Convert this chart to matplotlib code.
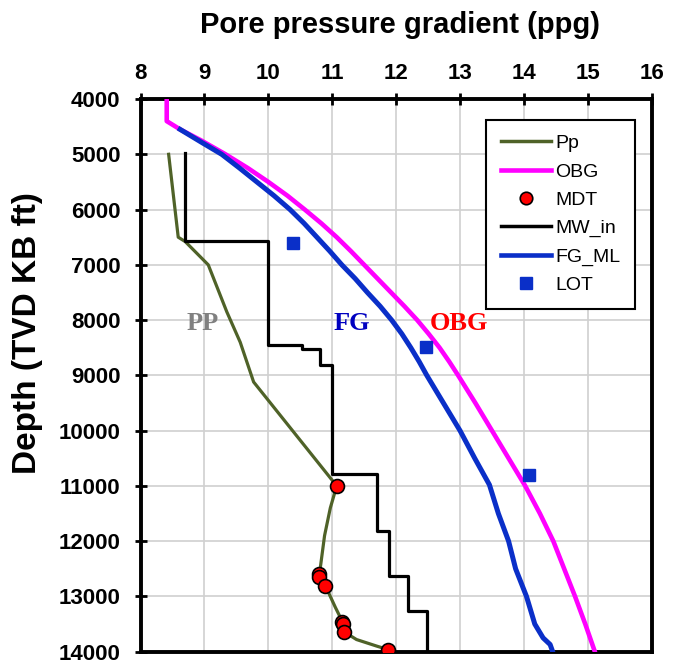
import matplotlib.pyplot as plt
import matplotlib.lines as mlines

plt.rcParams['font.family'] = ['Liberation Sans', 'DejaVu Sans']

# Pore pressure (ppg) vs depth (ft)
pp_ppg = [8.44, 8.49, 8.54, 8.59, 8.70, 9.06, 9.35, 9.56, 9.77, 11.07,
          10.97, 10.88, 10.80, 10.89, 11.05, 11.17, 11.20, 11.38, 11.70, 11.90]
pp_depth = [5000, 5500, 6000, 6500, 6580, 7000, 7850, 8400, 9120, 11000,
            11400, 11900, 12600, 12800, 13200, 13480, 13650, 13780, 13900, 13970]

# overburden gradient
obg_ppg = [8.41, 8.41, 8.62, 8.95, 9.33, 9.68, 10.0, 10.30, 10.57, 10.83,
           11.07, 11.29, 11.50, 11.71, 11.92, 12.13, 12.33, 12.51, 12.68,
           12.83, 12.97, 13.24, 13.50, 13.76, 14.02, 14.25, 14.46, 14.63,
           14.80, 14.96, 15.11]
obg_depth = [4000, 4400, 4550, 4750, 5000, 5250, 5500, 5750, 6000, 6250,
             6500, 6750, 7000, 7250, 7500, 7750, 8000, 8250, 8500,
             8750, 9000, 9500, 10000, 10500, 11000, 11500, 12000, 12500,
             13000, 13500, 14000]

# fracture gradient
fg_ppg = [8.62, 8.95, 9.27, 9.55, 9.82, 10.09, 10.34, 10.56, 10.76, 10.96,
          11.15, 11.36, 11.55, 11.75, 11.93, 12.09, 12.23, 12.36, 12.48,
          12.74, 13.0, 13.23, 13.46, 13.60, 13.76, 13.87, 14.04, 14.17,
          14.30, 14.41, 14.45]
fg_depth = [4550, 4780, 5000, 5250, 5500, 5750, 6000, 6250, 6500, 6750,
            7000, 7250, 7500, 7750, 8000, 8250, 8500, 8750, 9000,
            9500, 10000, 10500, 10980, 11500, 12000, 12500, 13000, 13500,
            13750, 13870, 14000]

# mud weight steps
mw_ppg = [8.70, 8.70, 10.0, 10.0, 10.52, 10.52, 10.81, 10.81, 10.99, 10.99,
          11.70, 11.70, 11.89, 11.89, 12.19, 12.19, 12.49, 12.49]
mw_depth = [4980, 6560, 6560, 8450, 8450, 8520, 8520, 8810, 8810, 10780,
            10780, 11810, 11810, 12630, 12630, 13270, 13270, 14000]

# MDT measurements
mdt_ppg = [11.07, 10.79, 10.80, 10.88, 11.16, 11.17, 11.19, 11.88]
mdt_depth = [11000, 12600, 12640, 12810, 13460, 13500, 13650, 13970]

# leak-off tests
lot_ppg = [10.39, 12.47, 14.08]
lot_depth = [6610, 8480, 10800]

fig = plt.figure(figsize=(6.73, 6.65), dpi=100)
ax = fig.add_axes([0.2088, 0.020, 0.7596, 0.8311])

ax.plot(pp_ppg, pp_depth, color='#4F6228', lw=2.3, zorder=3)
ax.plot(obg_ppg, obg_depth, color='#FF00FF', lw=3.3, zorder=3,
        solid_joinstyle='round')
ax.plot(mw_ppg, mw_depth, color='black', lw=2.3, zorder=3)
ax.plot(fg_ppg, fg_depth, color='#0A2FC8', lw=3.6, zorder=3,
        solid_joinstyle='round')
ax.plot(lot_ppg, lot_depth, 's', color='#0A2FC8', ms=8.5, zorder=4)
ax.plot(mdt_ppg, mdt_depth, 'o', mfc='red', mec='black', mew=1.2, ms=10, zorder=5)

ax.text(8.98, 8070, 'PP', color='#808080', fontsize=19, fontweight='bold',
        family='Liberation Serif', ha='center', va='center')
ax.text(11.31, 8070, 'FG', color='#0000C0', fontsize=19, fontweight='bold',
        family='Liberation Serif', ha='center', va='center')
ax.text(12.98, 8070, 'OBG', color='red', fontsize=19, fontweight='bold',
        family='Liberation Serif', ha='center', va='center')

ax.set_xlim(8, 16)
ax.set_ylim(14000, 4000)
ax.set_xticks(range(8, 17))
ax.set_yticks(range(4000, 14001, 1000))
ax.xaxis.tick_top()
ax.xaxis.set_label_position('top')
ax.grid(True, color='#d0d0d0', lw=1.2, zorder=0)
ax.set_axisbelow(True)

for s in ax.spines.values():
    s.set_linewidth(2.8)
ax.tick_params(axis='both', direction='inout', length=9, width=2,
               labelsize=16, right=False, bottom=False)
ax.tick_params(axis='x', pad=6)
ax.tick_params(axis='y', pad=10)
for lab in ax.get_xticklabels() + ax.get_yticklabels():
    lab.set_fontweight('bold')

ax.set_xlabel('Pore pressure gradient (ppg)', fontsize=21, fontweight='bold')
ax.xaxis.set_label_coords(0.508, 1.12)
ax.set_ylabel('Depth (TVD KB ft)', fontsize=24, fontweight='bold')
ax.yaxis.set_label_coords(-0.19, 0.577)

handles = [
    mlines.Line2D([], [], color='#4F6228', lw=2.5),
    mlines.Line2D([], [], color='#FF00FF', lw=3.3),
    mlines.Line2D([], [], ls='none', marker='o', mfc='red', mec='black', mew=1.2, ms=9),
    mlines.Line2D([], [], color='black', lw=2.5),
    mlines.Line2D([], [], color='#0A2FC8', lw=3.3),
    mlines.Line2D([], [], ls='none', marker='s', color='#0A2FC8', ms=8),
]
labels = ['Pp', 'OBG', 'MDT', 'MW_in', 'FG_ML', 'LOT']
leg = ax.legend(handles, labels, loc='upper right', bbox_to_anchor=(0.967, 0.962),
                borderaxespad=0, fontsize=14, handlelength=2.6, handletextpad=0.2,
                labelspacing=0.55, fancybox=False, framealpha=1,
                borderpad=0.75)
leg.get_frame().set_edgecolor('black')
leg.get_frame().set_linewidth(1.5)

fig.savefig('out.png', dpi=100)
